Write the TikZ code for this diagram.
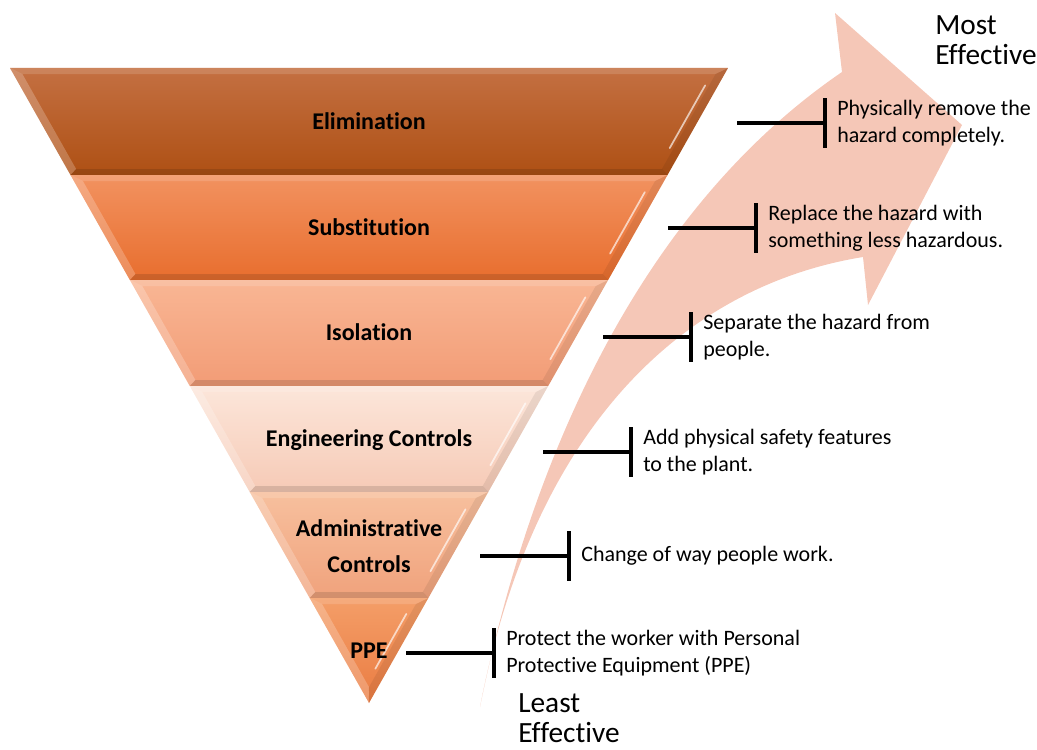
\documentclass[tikz,border=0pt]{standalone}
\usepackage{fontspec}
\setmainfont[Ligatures={NoCommon}]{Carlito}
\usetikzlibrary{calc}
\definecolor{elimT}{RGB}{196,112,66}
\definecolor{elimB}{RGB}{174,80,20}
\definecolor{subT}{RGB}{242,146,96}
\definecolor{subB}{RGB}{232,110,46}
\definecolor{isoT}{RGB}{249,182,148}
\definecolor{isoB}{RGB}{242,156,118}
\definecolor{engT}{RGB}{252,230,218}
\definecolor{engB}{RGB}{246,202,182}
\definecolor{admT}{RGB}{247,192,158}
\definecolor{admB}{RGB}{240,162,124}
\definecolor{ppeT}{RGB}{244,158,104}
\definecolor{ppeB}{RGB}{234,124,66}
\definecolor{arrowpink}{RGB}{245,199,183}
\tikzset{
  conn/.style={black,line width=2.3pt},
  desc/.style={anchor=west,align=left,inner sep=0pt,font=\fontsize{16.5}{20.25}\selectfont},
  level/.style={inner sep=0pt,align=center,font=\bfseries\fontsize{18}{27}\selectfont},
  endlabel/.style={anchor=north west,align=left,inner sep=0pt,font=\fontsize{22}{22.5}\selectfont}
}
\newcommand\pyrband[4]{%
  \pgfmathsetmacro\yt{#1}%
  \pgfmathsetmacro\yb{#2}%
  \pgfmathsetmacro\Lt{10+(\yt-68)*0.5654}%
  \pgfmathsetmacro\Rt{728-(\yt-68)*0.5654}%
  \pgfmathsetmacro\Lb{10+(\yb-68)*0.5654}%
  \pgfmathsetmacro\Rb{728-(\yb-68)*0.5654}%
  \pgfmathsetmacro\yit{\yt+6}%
  \pgfmathsetmacro\yib{min(\yb-6,687)}%
  \pgfmathsetmacro\Lit{19+(\yit-68)*0.5654}%
  \pgfmathsetmacro\Rit{719-(\yit-68)*0.5654}%
  \pgfmathsetmacro\Lib{19+(\yib-68)*0.5654}%
  \pgfmathsetmacro\Rib{719-(\yib-68)*0.5654}%
  \shade[top color=#3,bottom color=#4] (\Lt,\yt) -- (\Rt,\yt) -- (\Rb,\yb) -- (\Lb,\yb) -- cycle;
  \fill[white,opacity=.22] (\Lt,\yt) -- (\Lit,\yit) -- (\Lib,\yib) -- (\Lb,\yb) -- cycle;
  \fill[white,opacity=.14] (\Lt,\yt) -- (\Rt,\yt) -- (\Rit,\yit) -- (\Lit,\yit) -- cycle;
  \fill[black,opacity=.07] (\Rt,\yt) -- (\Rb,\yb) -- (\Rib,\yib) -- (\Rit,\yit) -- cycle;
  \fill[black,opacity=.12] (\Lb,\yb) -- (\Rb,\yb) -- (\Rib,\yib) -- (\Lib,\yib) -- cycle;
  \draw[white,opacity=.65,line width=1.3pt,line cap=round]
    ($(\Rit,\yit)!.12!(\Rib,\yib)+(-4,0)$) -- ($(\Rit,\yit)!.78!(\Rib,\yib)+(-4,0)$);
}
\begin{document}
\begin{tikzpicture}[x=0.75pt,y=-0.75pt]
\useasboundingbox (0,0) rectangle (1037,749);
% curved arrow
\fill[arrowpink] (480,707) .. controls (530,460) and (640,210) .. (842,72)
  -- (835,13) -- (962,125) -- (868,305) -- (863,257)
  .. controls (690,285) and (535,420) .. (480,707) -- cycle;
% pyramid
\pyrband{68}{175}{elimT}{elimB}
\pyrband{175}{280}{subT}{subB}
\pyrband{280}{386}{isoT}{isoB}
\pyrband{386}{492}{engT}{engB}
\pyrband{492}{598}{admT}{admB}
\pyrband{598}{703}{ppeT}{ppeB}
\node[level] (l1) at (369,121) {Elimination};
\node[level] (l2) at (369,227) {Substitution};
\node[level] (l3) at (369,332) {Isolation};
\node[level,text depth=0pt] (l4) at (369,438) {Engineering Controls};
\node[level] (l5) at (369,546) {Administrative\\Controls};
\node[level] (l6) at (369,651) {PPE};
% descriptions
\node[desc] (d1) at (837,123) {Physically remove the\\hazard completely.};
\node[desc] (d2) at (768,228) {Replace the hazard with\\something less hazardous.};
\node[desc] (d3) at (703,337) {Separate the hazard from\\people.};
\node[desc] (d4) at (643,452) {Add physical safety features\\to the plant.};
\node[desc] (d5) at (581,556) {Change of way people work.};
\node[desc] (d6) at (506,653) {Protect the worker with Personal\\Protective Equipment (PPE)};
% connectors
\foreach \i/\sx in {1/737,2/668,3/603,4/543,5/480,6/406}{
  \coordinate (b\i) at ($(d\i.west)+(-12,0)$);
  \coordinate (s\i) at (\sx,0 |- b\i);
  \draw[conn] (s\i) -- (b\i);
  \draw[conn] ($(b\i)+(0,-25)$) -- ($(b\i)+(0,25)$);
}
% end labels
\node[endlabel] (most) at (935,15) {Most\\Effective};
\node[endlabel] (least) at (518,693) {Least\\Effective};
\end{tikzpicture}
\end{document}
